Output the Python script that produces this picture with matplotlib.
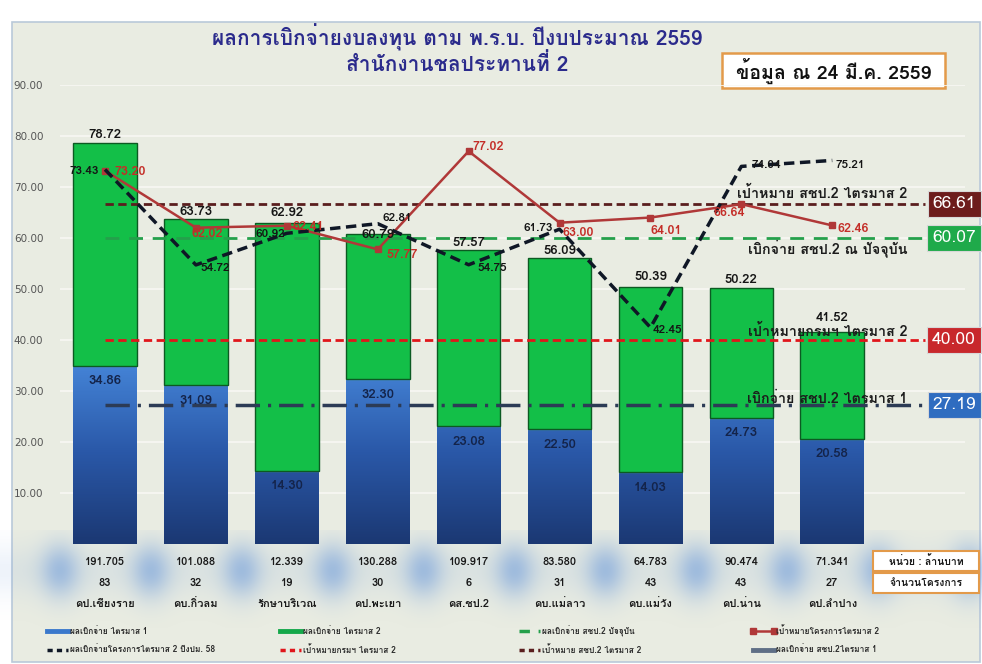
import matplotlib
matplotlib.use('Agg')
import matplotlib.pyplot as plt
import matplotlib.transforms as mtransforms
from matplotlib import font_manager
from matplotlib.colors import LinearSegmentedColormap
from matplotlib.patches import Rectangle
from matplotlib.lines import Line2D
import numpy as np


def thai_font():
    # look for any installed font that has Thai glyphs
    from fontTools.ttLib import TTFont
    names = []
    for f in font_manager.fontManager.ttflist:
        try:
            tt = TTFont(f.fname, fontNumber=0, lazy=True)
            cmap = tt.getBestCmap()
            if cmap and 0x0E01 in cmap:
                names.append(f.name)
        except Exception:
            pass
    return names[0] if names else 'DejaVu Sans'


TH = thai_font()
plt.rcParams['font.family'] = [TH, 'DejaVu Sans']

# ข้อมูล
projects = ['คป.เชียงราย', 'คบ.กิ่วลม', 'รักษาบริเวณ', 'คป.พะเยา', 'คส.ชป.2',
            'คบ.แม่ลาว', 'คบ.แม่วัง', 'คป.น่าน', 'คป.ลำปาง']
budget = ['191.705', '101.088', '12.339', '130.288', '109.917',
          '83.580', '64.783', '90.474', '71.341']
n_projects = [83, 32, 19, 30, 6, 31, 43, 43, 27]
q1 = [34.86, 31.09, 14.30, 32.30, 23.08, 22.50, 14.03, 24.73, 20.58]
total = [78.72, 63.73, 62.92, 60.79, 57.57, 56.09, 50.39, 50.22, 41.52]
target_q2 = [73.20, 62.02, 62.41, 57.77, 77.02, 63.00, 64.01, 66.64, 62.46]
result_58 = [73.43, 54.72, 60.92, 62.81, 54.75, 61.73, 42.45, 74.04, 75.21]

ref_values = [66.61, 60.07, 40.00, 27.19]
ref_names = ['เป้าหมาย สชป.2 ไตรมาส 2', 'เบิกจ่าย สชป.2 ณ ปัจจุบัน',
             'เป้าหมายกรมฯ ไตรมาส 2', 'เบิกจ่าย สชป.2 ไตรมาส 1']

title1 = 'ผลการเบิกจ่ายงบลงทุน ตาม พ.ร.บ. ปีงบประมาณ 2559'
title2 = 'สำนักงานชลประทานที่ 2'
date_note = 'ข้อมูล ณ 24 มี.ค. 2559'

x = np.arange(len(projects))
q2 = np.array(total) - np.array(q1)

W, H = 982, 664
fig = plt.figure(figsize=(W / 100, H / 100), dpi=100)
fig.patch.set_facecolor('white')

# background layer in pixel coords
bg = fig.add_axes([0, 0, 1, 1], zorder=0)
bg.set_xlim(0, W)
bg.set_ylim(H, 0)
bg.axis('off')
bg.add_patch(Rectangle((12, 22), 968, 640, fc='#e9ece2', ec='#b9c9d9', lw=1.2))

ax = fig.add_axes([60 / W, 1 - 544 / H, 905 / W, 459 / H], zorder=2)
ax.set_facecolor('none')
ax.set_xlim(-0.495, 9.46)
ax.set_ylim(0, 90)
for s in ax.spines.values():
    s.set_visible(False)
ax.set_xticks([])
ax.set_yticks(np.arange(10, 100, 10))
ax.set_yticklabels(['%.2f' % v for v in np.arange(10, 100, 10)],
                   fontsize=7.5, color='#555555', family='DejaVu Sans')
ax.tick_params(axis='y', length=0, pad=12)
ax.grid(axis='y', color='#f8f8f3', lw=1.2)
ax.set_axisbelow(True)

# blue glow behind the table (decoration)
sep_x = np.arange(-0.5, 9.6, 1.0)
seps = ax.transData.transform(np.column_stack([sep_x, np.zeros_like(sep_x)]))[:, 0]
gx, gy = np.meshgrid(np.arange(0, W), np.arange(530, 628))
hglow = np.zeros_like(gx, dtype=float)
for s in seps:
    hglow = np.maximum(hglow, np.exp(-((gx - s) / 19.0) ** 2))
vglow = np.exp(-((gy - 570) / 27.0) ** 2)
alpha = np.clip(0.5 * hglow * vglow + 0.12 * vglow, 0, 1)
rgba = np.zeros(gx.shape + (4,))
rgba[..., 0] = 0.45
rgba[..., 1] = 0.62
rgba[..., 2] = 0.86
rgba[..., 3] = alpha
bg.imshow(rgba, extent=[0, W, 628, 530], aspect='auto', zorder=1)
bg.set_xlim(0, W)
bg.set_ylim(H, 0)

# bars
bw = 0.70
blue_cmap = LinearSegmentedColormap.from_list('b', ['#1b3873', '#2a58a8', '#4585d8'])
bars1 = ax.bar(x, q1, width=bw, color='#2f62b5', zorder=2)
for b, v in zip(bars1, q1):
    grad = np.linspace(0, v / 36.0, 100).reshape(-1, 1)
    im = ax.imshow(grad, extent=[b.get_x(), b.get_x() + bw, 0, v], origin='lower',
                   aspect='auto', cmap=blue_cmap, vmin=0, vmax=1, zorder=2.1)
    im.set_clip_path(b)
ax.hlines(q1, x - bw / 2, x + bw / 2, color='#86c9f5', lw=1.6, zorder=2.2)
ax.bar(x, q2, bottom=q1, width=bw, color='#13bf48', edgecolor='#0c5a22', lw=1.0, zorder=2.3)
ax.set_xlim(-0.495, 9.46)
ax.set_ylim(0, 90)

# reference lines
ref_colors = ['#5a1e1e', '#24a04b', '#e0161b', '#2c3b55']
ref_styles = [(0, (3, 1.6)), (0, (5, 3.5)), (0, (3, 1.6)), (0, (7, 2.3, 0.9, 2.3))]
ref_lw = [2.0, 2.0, 2.0, 2.5]
for v, c, ls, lw in zip(ref_values, ref_colors, ref_styles, ref_lw):
    ax.hlines(v, 0, 9.02, color=c, ls=ls, lw=lw, zorder=3)

# inline labels of reference lines
ref_dy = [7.5, -7.5, 6, 4.5]
for v, t, dy in zip(ref_values, ref_names, ref_dy):
    ax.annotate(t, (8.83, v), xytext=(0, dy), textcoords='offset points',
                ha='right', va='center', fontsize=10.3, fontweight='bold',
                color='#1c1c1c', zorder=6)

# value boxes at the right
box_colors = ['#6d1c1c', '#1faa4a', '#c8282c', '#2f6cc0']
bt = mtransforms.blended_transform_factory(ax.transAxes, ax.transData)
for v, c in zip(ref_values, box_colors):
    ax.text(0.988, v, '%.2f' % v, transform=bt, ha='center', va='center',
            fontsize=12.5, color='white', clip_on=False, zorder=7,
            bbox=dict(boxstyle='square,pad=0.28', fc=c, ec='#d8d8d8', lw=0.8))

# series lines
ax.plot(x, target_q2, color='#b03838', lw=1.8, marker='s', ms=5, zorder=5)
ax.plot(x, result_58, color='#0f1726', lw=2.5, ls=(0, (3, 1.6)), zorder=5)

# data labels
tot_dy = [1, 1, 3, -5, 1, 1, 3, 1, 6]
for xi, v, dy in zip(x, total, tot_dy):
    ax.annotate('%.2f' % v, (xi, v), xytext=(0, dy), textcoords='offset points',
                ha='center', va='bottom', fontsize=9.5, fontweight='bold',
                color='#151515', zorder=6)
for xi, v in zip(x, q1):
    ax.annotate('%.2f' % v, (xi, v), xytext=(0, -11), textcoords='offset points',
                ha='center', va='center', fontsize=9.5, fontweight='bold',
                color='#14244a', zorder=6)

red_off = [(7, -1), (-3, -4.5), (4, -1), (6.5, -4), (3, 3), (2, -7.5), (0, -10), (-20, -6.5), (3.5, -2.5)]
for xi, v, (ox, oy) in zip(x, target_q2, red_off):
    ax.annotate('%.2f' % v, (xi, v), xytext=(ox, oy), textcoords='offset points',
                ha='left', va='center', fontsize=9, fontweight='bold',
                color='#c42e28', zorder=6)

blk_off = [(-4.5, -1), (3, -2), (-1, -0.5), (3.5, 4), (6.5, -2), (-5, 1), (1.5, -2), (7, 1), (2.5, -3.5)]
blk_ha = ['right', 'left', 'right', 'left', 'left', 'right', 'left', 'left', 'left']
for xi, v, (ox, oy), ha in zip(x, result_58, blk_off, blk_ha):
    ax.annotate('%.2f' % v, (xi, v), xytext=(ox, oy), textcoords='offset points',
                ha=ha, va='center', fontsize=8.5, fontweight='bold',
                color='#151515', zorder=6)

# table under the bars
tt = mtransforms.blended_transform_factory(ax.transData, fig.transFigure)
for xi, b, n, p in zip(x, budget, n_projects, projects):
    ax.text(xi, 1 - 562 / H, b, transform=tt, ha='center', va='center',
            fontsize=8, fontweight='bold', color='#1a1a1a', clip_on=False)
    ax.text(xi, 1 - 583 / H, str(n), transform=tt, ha='center', va='center',
            fontsize=8, fontweight='bold', color='#1a1a1a', clip_on=False)
    ax.text(xi, 1 - 604 / H, p, transform=tt, ha='center', va='center',
            fontsize=8, fontweight='bold', color='#1a1a1a', clip_on=False)

for yc, t in [(561, 'หน่วย : ล้านบาท'), (583, 'จำนวนโครงการ')]:
    bg.add_patch(Rectangle((873, yc - 10), 106, 20, fc='white', ec='#e39a4a', lw=1.5, zorder=3))
    bg.text(926, yc, t, ha='center', va='center', fontsize=7.5,
            fontweight='bold', color='#1a1a1a', zorder=4)

# titles
bg.text(457, 37, title1, ha='center', va='center', fontsize=15,
        fontweight='bold', color='#2b2b8c', zorder=4)
bg.text(457, 64, title2, ha='center', va='center', fontsize=15,
        fontweight='bold', color='#2b2b8c', zorder=4)
bg.add_patch(Rectangle((722, 53), 223, 35, fc='white', ec='#e39a4a', lw=1.8, zorder=3))
bg.text(834, 71, date_note, ha='center', va='center', fontsize=14,
        fontweight='bold', color='#111111', zorder=4)

# legend at the bottom
legend_items = [
    ('ผลเบิกจ่าย ไตรมาส 1', dict(color='#3a78cc', lw=3.5)),
    ('ผลเบิกจ่าย ไตรมาส 2', dict(color='#14a84a', lw=3.5)),
    ('ผลเบิกจ่าย สชป.2 ปัจจุบัน', dict(color='#24a04b', lw=2.5, ls=(0, (3, 2.5)))),
    ('เป้าหมายโครงการไตรมาส 2', dict(color='#b03838', lw=1.8, marker='s', ms=4)),
    ('ผลเบิกจ่ายโครงการไตรมาส 2 ปีงปม. 58', dict(color='#0f1726', lw=2.5, ls=(0, (1.5, 1.2)))),
    ('เป้าหมายกรมฯ ไตรมาส 2', dict(color='#e0161b', lw=2.5, ls=(0, (1.5, 1.2)))),
    ('เป้าหมาย สชป.2 ไตรมาส 2', dict(color='#5a1e1e', lw=2.5, ls=(0, (1.5, 1.2)))),
    ('ผลเบิกจ่าย สชป.2ไตรมาส 1', dict(color='#5f6f86', lw=3.5)),
]
col_x = [47, 280, 519, 753]
row_y = [631, 650]
for i, (lab, st) in enumerate(legend_items):
    cx = col_x[i % 4]
    cy = row_y[i // 4]
    bg.add_line(Line2D([cx, cx + 21], [cy, cy], zorder=4, **st))
    bg.text(cx + 23, cy, lab, ha='left', va='center', fontsize=6,
            fontweight='bold', color='#2a2a2a', zorder=4)

fig.savefig('out.png', dpi=100)
